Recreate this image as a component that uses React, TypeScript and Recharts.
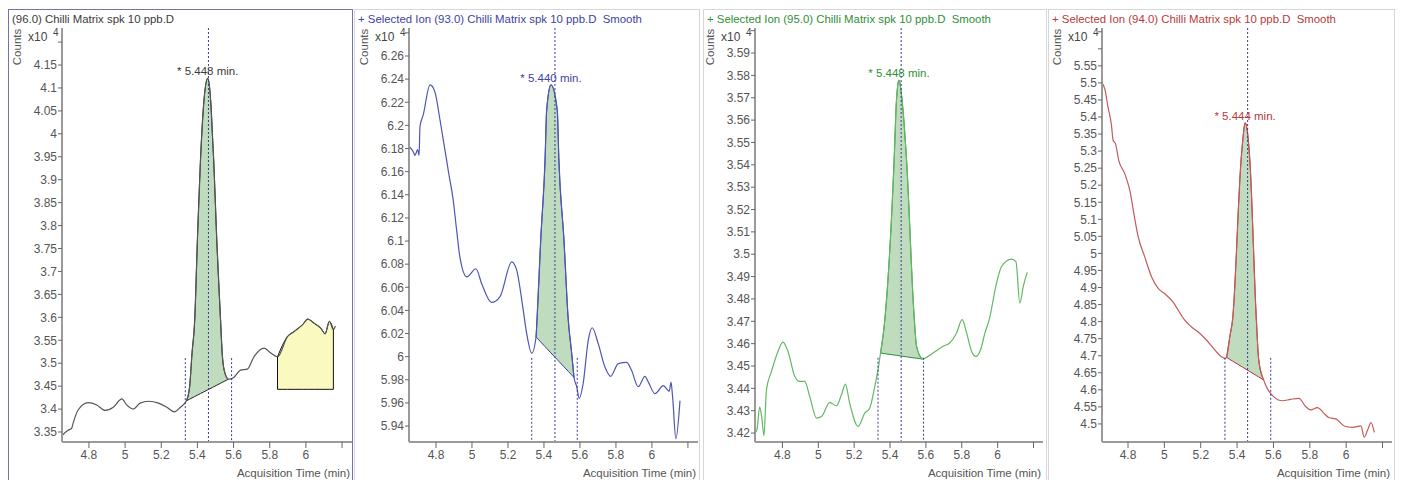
import React from "react";
import {
  ComposedChart,
  Line,
  Area,
  XAxis,
  YAxis,
  ReferenceLine,
  ReferenceDot
} from "recharts";

// ---- shared x ticks (Acquisition Time, min)
const timeTicks = [4.8, 5, 5.2, 5.4, 5.6, 5.8, 6, 6.2];

// ---- panel 1: (96.0)
const p1Time = [4.652, 4.685, 4.704, 4.713, 4.74, 4.796, 4.843, 4.889, 4.935, 4.982, 5.009, 5.046, 5.083, 5.129, 5.185, 5.231, 5.272, 5.306, 5.339, 5.357, 5.37, 5.385, 5.4, 5.417, 5.434, 5.457, 5.475, 5.484, 5.49, 5.507, 5.528, 5.537, 5.548, 5.571, 5.601, 5.639, 5.676, 5.713, 5.769, 5.806, 5.843, 5.898, 5.935, 5.982, 6.01, 6.046, 6.083, 6.106, 6.13, 6.152, 6.163];
const p1Counts = [3.343, 3.354, 3.358, 3.37, 3.398, 3.414, 3.409, 3.397, 3.404, 3.422, 3.409, 3.4, 3.413, 3.417, 3.413, 3.404, 3.394, 3.404, 3.418, 3.449, 3.521, 3.594, 3.769, 3.943, 4.062, 4.121, 4.062, 3.99, 3.943, 3.769, 3.594, 3.522, 3.485, 3.465, 3.469, 3.485, 3.487, 3.514, 3.533, 3.522, 3.514, 3.558, 3.569, 3.584, 3.596, 3.587, 3.576, 3.564, 3.591, 3.573, 3.581];
const p1PeakTime = [5.339, 5.357, 5.37, 5.385, 5.4, 5.417, 5.434, 5.457, 5.475, 5.484, 5.49, 5.507, 5.528, 5.537, 5.548, 5.571];
const p1PeakBase = [3.418, 3.4216, 3.4243, 3.4273, 3.4304, 3.4338, 3.4372, 3.4419, 3.4455, 3.4474, 3.4486, 3.452, 3.4563, 3.4581, 3.4603, 3.465];
const p1Box = [5.843, 6.152];
const p1BoxFloor = 3.443;
const p1Marks = [5.333, 5.461, 5.589];
const p1YTicks = [3.35, 3.4, 3.45, 3.5, 3.55, 3.6, 3.65, 3.7, 3.75, 3.8, 3.85, 3.9, 3.95, 4, 4.05, 4.1, 4.15, 4.2];

// ---- panel 2: (93.0)
const p2Time = [4.652, 4.674, 4.683, 4.698, 4.706, 4.711, 4.729, 4.767, 4.794, 4.822, 4.859, 4.868, 4.896, 4.915, 4.933, 4.971, 5.022, 5.054, 5.109, 5.156, 5.221, 5.248, 5.285, 5.304, 5.332, 5.356, 5.362, 5.382, 5.406, 5.415, 5.439, 5.474, 5.483, 5.511, 5.535, 5.554, 5.567, 5.582, 5.596, 5.618, 5.646, 5.668, 5.702, 5.739, 5.77, 5.813, 5.859, 5.887, 5.924, 5.961, 5.98, 6.017, 6.063, 6.096, 6.106, 6.115, 6.133, 6.156];
const p2Counts = [6.1815, 6.177, 6.174, 6.179, 6.174, 6.199, 6.209, 6.235, 6.229, 6.205, 6.17, 6.161, 6.135, 6.109, 6.086, 6.069, 6.076, 6.063, 6.047, 6.052, 6.082, 6.075, 6.04, 6.02, 6.003, 6.017, 6.034, 6.101, 6.17, 6.213, 6.235, 6.213, 6.17, 6.101, 6.032, 6.003, 5.982, 5.974, 5.964, 5.977, 6.014, 6.025, 6.011, 5.991, 5.983, 5.994, 5.995, 5.988, 5.974, 5.983, 5.978, 5.968, 5.975, 5.97, 5.978, 5.965, 5.929, 5.962];
const p2PeakTime = [5.356, 5.362, 5.382, 5.406, 5.415, 5.439, 5.474, 5.483, 5.511, 5.535, 5.554, 5.567];
const p2PeakBase = [6.017, 6.016, 6.0127, 6.0087, 6.0072, 6.0032, 5.9974, 5.9959, 5.9913, 5.9873, 5.9842, 5.982];
const p2Marks = [5.332, 5.461, 5.585];
const p2YTicks = [5.94, 5.96, 5.98, 6, 6.02, 6.04, 6.06, 6.08, 6.1, 6.12, 6.14, 6.16, 6.18, 6.2, 6.22, 6.24, 6.26, 6.28];

// ---- panel 3: (95.0)
const p3Time = [4.647, 4.658, 4.673, 4.684, 4.697, 4.711, 4.739, 4.775, 4.803, 4.831, 4.869, 4.896, 4.924, 4.952, 4.99, 5.018, 5.064, 5.101, 5.129, 5.151, 5.175, 5.222, 5.259, 5.287, 5.315, 5.333, 5.347, 5.371, 5.423, 5.436, 5.45, 5.467, 5.492, 5.534, 5.548, 5.581, 5.612, 5.64, 5.696, 5.733, 5.771, 5.802, 5.827, 5.855, 5.879, 5.905, 5.929, 5.953, 5.994, 6.022, 6.078, 6.102, 6.124, 6.143, 6.165];
const p3Counts = [3.42, 3.4215, 3.4316, 3.4274, 3.4188, 3.4394, 3.4476, 3.4565, 3.4607, 3.4565, 3.4453, 3.4431, 3.4431, 3.4364, 3.4267, 3.4274, 3.4337, 3.4322, 3.4371, 3.4419, 3.4334, 3.423, 3.4289, 3.4312, 3.4409, 3.4483, 3.4558, 3.4707, 3.5423, 3.569, 3.5779, 3.569, 3.5422, 3.4727, 3.4588, 3.4531, 3.4543, 3.4558, 3.4588, 3.4603, 3.4648, 3.4707, 3.4648, 3.4565, 3.4543, 3.4573, 3.4647, 3.4707, 3.4871, 3.4945, 3.4978, 3.4967, 3.4781, 3.4856, 3.4919];
const p3PeakTime = [5.347, 5.371, 5.423, 5.436, 5.45, 5.467, 5.492, 5.534, 5.548, 5.581];
const p3PeakBase = [3.4558, 3.4555, 3.4549, 3.4548, 3.4546, 3.4544, 3.4541, 3.4536, 3.4535, 3.4531];
const p3Marks = [5.333, 5.462, 5.587];
const p3YTicks = [3.42, 3.43, 3.44, 3.45, 3.46, 3.47, 3.48, 3.49, 3.5, 3.51, 3.52, 3.53, 3.54, 3.55, 3.56, 3.57, 3.58, 3.59, 3.6];

// ---- panel 4: (94.0)
const p4Time = [4.657, 4.672, 4.69, 4.709, 4.718, 4.731, 4.749, 4.782, 4.81, 4.837, 4.856, 4.892, 4.93, 4.967, 5.0, 5.047, 5.093, 5.111, 5.148, 5.194, 5.24, 5.277, 5.314, 5.333, 5.342, 5.36, 5.375, 5.422, 5.431, 5.444, 5.462, 5.47, 5.506, 5.519, 5.546, 5.565, 5.601, 5.648, 5.694, 5.74, 5.777, 5.805, 5.842, 5.878, 5.906, 5.943, 5.989, 6.035, 6.081, 6.099, 6.118, 6.136, 6.155];
const p4Counts = [5.5, 5.483, 5.429, 5.376, 5.332, 5.322, 5.273, 5.234, 5.185, 5.102, 5.049, 4.99, 4.931, 4.897, 4.883, 4.858, 4.819, 4.805, 4.785, 4.766, 4.741, 4.717, 4.697, 4.692, 4.695, 4.756, 4.805, 5.274, 5.33, 5.383, 5.33, 5.274, 4.805, 4.688, 4.629, 4.605, 4.58, 4.568, 4.572, 4.575, 4.551, 4.541, 4.548, 4.531, 4.518, 4.515, 4.494, 4.49, 4.494, 4.461, 4.482, 4.504, 4.475];
const p4PeakTime = [5.342, 5.36, 5.375, 5.422, 5.431, 5.444, 5.462, 5.47, 5.506, 5.519, 5.546];
const p4PeakBase = [4.695, 4.6892, 4.6843, 4.6691, 4.6662, 4.662, 4.6562, 4.6536, 4.6419, 4.6377, 4.629];
const p4Marks = [5.333, 5.458, 5.585];
const p4YTicks = [4.5, 4.55, 4.6, 4.65, 4.7, 4.75, 4.8, 4.85, 4.9, 4.95, 5, 5.05, 5.1, 5.15, 5.2, 5.25, 5.3, 5.35, 5.4, 5.45, 5.5, 5.55, 5.6, 5.65];

const FONT = "'Liberation Sans', Arial, sans-serif";
const PEAK_FILL = "#bfdcbf";
const MARK_COLOR = "#3a3a98";

type Row = { t: number; y: number; peak?: [number, number]; box?: [number, number] };

function buildRows(
  time: number[],
  counts: number[],
  peakTime: number[],
  peakBase: number[],
  box?: number[],
  boxFloor?: number
): Row[] {
  return time.map((t, i) => {
    const row: Row = { t, y: counts[i] };
    const k = peakTime.indexOf(t);
    if (k >= 0) row.peak = [peakBase[k], counts[i]];
    if (box && boxFloor != null && t >= box[0] && t <= box[1]) row.box = [boxFloor, counts[i]];
    return row;
  });
}

interface PanelCfg {
  left: number;
  width: number;
  axisW: number;
  marginRight: number;
  border: string;
  title: string;
  titleColor: string;
  lineColor: string;
  peakStroke: string;
  rows: Row[];
  xDomain: [number, number];
  yDomain: [number, number];
  yTicks: number[];
  hiddenY: number[];
  marks: number[];
  stubTop: number;
  apexT: number;
  apexV: number;
  apexLabel: string;
  box?: number[];
  boxFloor?: number;
  boxTopL?: number;
  boxTopR?: number;
}

const panels: PanelCfg[] = [
  {
    left: 8, width: 346, axisW: 54, marginRight: 2, border: "#7474a4",
    title: "(96.0) Chilli Matrix spk 10 ppb.D", titleColor: "#3a3a3a",
    lineColor: "#555555", peakStroke: "#222222",
    rows: buildRows(p1Time, p1Counts, p1PeakTime, p1PeakBase, p1Box, p1BoxFloor),
    xDomain: [4.651, 6.255], yDomain: [3.3282, 4.2307], yTicks: p1YTicks, hiddenY: [4.2],
    marks: p1Marks, stubTop: 3.511, apexT: 5.457, apexV: 4.121, apexLabel: "* 5.448 min.",
    box: p1Box, boxFloor: p1BoxFloor, boxTopL: 3.514, boxTopR: 3.573
  },
  {
    left: 354, width: 347, axisW: 55, marginRight: 3, border: "#d6d6d6",
    title: "+ Selected Ion (93.0) Chilli Matrix spk 10 ppb.D  Smooth", titleColor: "#3c44a0",
    lineColor: "#4f55b2", peakStroke: "#3a40a0",
    rows: buildRows(p2Time, p2Counts, p2PeakTime, p2PeakBase),
    xDomain: [4.65, 6.256], yDomain: [5.9262, 6.2842], yTicks: p2YTicks, hiddenY: [6.28],
    marks: p2Marks, stubTop: 5.999, apexT: 5.439, apexV: 6.235, apexLabel: "* 5.440 min."
  },
  {
    left: 703, width: 345, axisW: 52, marginRight: 5, border: "#d6d6d6",
    title: "+ Selected Ion (95.0) Chilli Matrix spk 10 ppb.D  Smooth", titleColor: "#2f8f36",
    lineColor: "#62b862", peakStroke: "#2f8a3a",
    rows: buildRows(p3Time, p3Counts, p3PeakTime, p3PeakBase),
    xDomain: [4.647, 6.253], yDomain: [3.416, 3.6012], yTicks: p3YTicks, hiddenY: [3.6],
    marks: p3Marks, stubTop: 3.4537, apexT: 5.45, apexV: 3.5779, apexLabel: "* 5.448 min."
  },
  {
    left: 1048, width: 348, axisW: 54, marginRight: 4, border: "#d6d6d6",
    title: "+ Selected Ion (94.0) Chilli Matrix spk 10 ppb.D  Smooth", titleColor: "#b73a3a",
    lineColor: "#c45a5a", peakStroke: "#b83232",
    rows: buildRows(p4Time, p4Counts, p4PeakTime, p4PeakBase),
    xDomain: [4.657, 6.252], yDomain: [4.447, 5.661], yTicks: p4YTicks, hiddenY: [5.6, 5.65],
    marks: p4Marks, stubTop: 4.694, apexT: 5.444, apexV: 5.383, apexLabel: "* 5.444 min."
  }
];

const TOP = 9;
const H = 471;
const PLOT_TOP = 19;
const X_AXIS_H = 38;

function Panel({ cfg }: { cfg: PanelCfg }) {
  const axisX = cfg.left + cfg.axisW;
  const plotRight = cfg.left + cfg.width - cfg.marginRight;
  const [startT, apexMarkT, endT] = cfg.marks;
  const yMin = cfg.yDomain[0];
  const textBase: React.CSSProperties = {
    position: "absolute",
    whiteSpace: "pre",
    fontFamily: FONT,
    lineHeight: "14px"
  };
  return (
    <>
      <div
        style={{
          position: "absolute",
          left: cfg.left,
          top: TOP,
          width: cfg.width - 1,
          height: 480,
          border: `1px solid ${cfg.border}`,
          boxSizing: "border-box"
        }}
      />
      <div style={{ position: "absolute", left: cfg.left, top: TOP }}>
        <ComposedChart
          width={cfg.width}
          height={H}
          data={cfg.rows}
          margin={{ top: PLOT_TOP, right: cfg.marginRight, left: 0, bottom: 0 }}
        >
          <XAxis
            type="number"
            dataKey="t"
            domain={cfg.xDomain}
            ticks={timeTicks}
            interval={0}
            allowDataOverflow
            height={X_AXIS_H}
            tickSize={6}
            tickMargin={2}
            axisLine={{ stroke: "#9a9a9a", strokeWidth: 2 }}
            tickLine={{ stroke: "#666" }}
            tick={{ fontSize: 12, fill: "#555", fontFamily: FONT }}
            tickFormatter={(v: number) => (v === 6.2 ? "" : String(v))}
          />
          <YAxis
            type="number"
            domain={cfg.yDomain}
            ticks={cfg.yTicks}
            interval={0}
            allowDataOverflow
            width={cfg.axisW}
            tickSize={4}
            tickMargin={1}
            axisLine={{ stroke: "#9a9a9a", strokeWidth: 2 }}
            tickLine={{ stroke: "#666" }}
            tick={{ fontSize: 12, fill: "#555", fontFamily: FONT }}
            tickFormatter={(v: number) => (cfg.hiddenY.includes(v) ? "" : String(v))}
          />
          {cfg.box && (
            <Area
              dataKey="box"
              type="monotone"
              fill="#fafac0"
              fillOpacity={1}
              stroke="#111"
              strokeWidth={1}
              isAnimationActive={false}
              activeDot={false}
            />
          )}
          <Line
            dataKey="y"
            type="monotone"
            stroke={cfg.lineColor}
            strokeWidth={1.2}
            dot={false}
            activeDot={false}
            isAnimationActive={false}
          />
          <Area
            dataKey="peak"
            type="monotone"
            fill={PEAK_FILL}
            fillOpacity={1}
            stroke={cfg.peakStroke}
            strokeWidth={1}
            isAnimationActive={false}
            activeDot={false}
          />
          {cfg.box && (
            <ReferenceLine
              segment={[
                { x: cfg.box[0], y: cfg.boxFloor },
                { x: cfg.box[0], y: cfg.boxTopL }
              ]}
              stroke="#111"
            />
          )}
          {cfg.box && (
            <ReferenceLine
              segment={[
                { x: cfg.box[1], y: cfg.boxFloor },
                { x: cfg.box[1], y: cfg.boxTopR }
              ]}
              stroke="#111"
            />
          )}
          <ReferenceLine x={apexMarkT} stroke={MARK_COLOR} strokeDasharray="2 2" />
          <ReferenceLine
            segment={[{ x: startT, y: cfg.stubTop }, { x: startT, y: yMin }]}
            stroke={MARK_COLOR}
            strokeDasharray="2 2"
          />
          <ReferenceLine
            segment={[{ x: endT, y: cfg.stubTop }, { x: endT, y: yMin }]}
            stroke={MARK_COLOR}
            strokeDasharray="2 2"
          />
          <ReferenceDot
            x={cfg.apexT}
            y={cfg.apexV}
            r={0}
            fill="none"
            stroke="none"
            label={{
              value: cfg.apexLabel,
              position: "top",
              offset: 3,
              fill: cfg.titleColor,
              fontSize: 11.5,
              fontFamily: FONT
            }}
          />
        </ComposedChart>
      </div>
      <div style={{ ...textBase, left: cfg.left + 4, top: 12, fontSize: 11.4, color: cfg.titleColor }}>
        {cfg.title}
      </div>
      <div
        style={{
          ...textBase,
          left: axisX - 45,
          top: 47,
          fontSize: 11.5,
          color: "#555",
          transform: "translate(-50%, -50%) rotate(-90deg)"
        }}
      >
        Counts
      </div>
      <div style={{ ...textBase, left: axisX - 34, top: 30, fontSize: 12, color: "#444" }}>x10</div>
      <div style={{ ...textBase, left: axisX - 9, top: 26, fontSize: 10, color: "#444" }}>4</div>
      <div
        style={{
          ...textBase,
          right: 1402 - (plotRight - 2),
          top: 466,
          fontSize: 11.5,
          color: "#555"
        }}
      >
        Acquisition Time (min)
      </div>
    </>
  );
}

export default function App() {
  return (
    <div
      style={{
        position: "absolute",
        left: 0,
        top: 0,
        width: 1402,
        height: 480,
        background: "#fff",
        overflow: "hidden",
        fontFamily: FONT
      }}
    >
      {panels.map((p, i) => (
        <Panel key={i} cfg={p} />
      ))}
    </div>
  );
}
